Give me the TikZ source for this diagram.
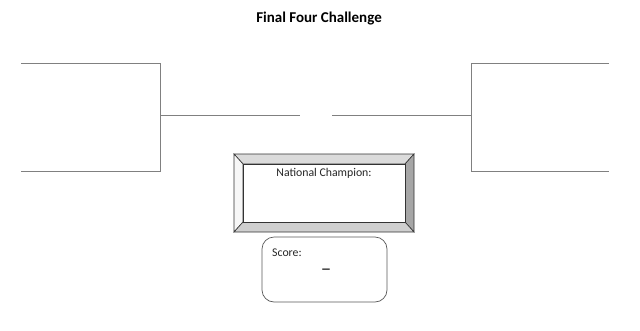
\documentclass[tikz,border=0pt]{standalone}
\usepackage{fontspec}
\setmainfont{Carlito}
\usetikzlibrary{positioning,calc}

\begin{document}
\begin{tikzpicture}[
  x=1pt, y=-1pt,
  bracket/.style={draw=black!50, line width=0.9pt},
  bevel/.style={draw=black!80, line width=0.6pt},
  title/.style={font=\bfseries\fontsize{15}{17}\selectfont, inner sep=0pt},
  lbl/.style={font=\fontsize{11.8}{13}\selectfont, inner sep=0pt, text=black!85},
  scorebox/.style={draw=black!65, rounded corners=12pt, line width=0.7pt}
]
  \useasboundingbox (0,0) rectangle (640,330);
  \node[title] (title) at (319,19) {Final Four Challenge};

  % Left bracket
  \coordinate (lt1) at (21,63);  \coordinate (lt2) at (160,63);
  \coordinate (lb1) at (21,171); \coordinate (lb2) at (160,171);
  \coordinate (lm1) at (160,115); \coordinate (lm2) at (300,115);
  \draw[bracket] (lt1) -- (lt2) -- (lb2) -- (lb1);
  \draw[bracket] (lm1) -- (lm2);

  % Right bracket
  \coordinate (rt1) at (609,63);  \coordinate (rt2) at (471,63);
  \coordinate (rb1) at (609,171); \coordinate (rb2) at (471,171);
  \coordinate (rm1) at (471,115); \coordinate (rm2) at (332,115);
  \draw[bracket] (rt1) -- (rt2) -- (rb2) -- (rb1);
  \draw[bracket] (rm1) -- (rm2);

  % Bevelled champion box
  \coordinate (o1) at (234,154); \coordinate (o2) at (414,154);
  \coordinate (o3) at (414,232); \coordinate (o4) at (234,232);
  \coordinate (i1) at (243,164); \coordinate (i2) at (405,164);
  \coordinate (i3) at (405,222); \coordinate (i4) at (243,222);
  \filldraw[bevel, fill=gray!28] (o1) -- (o2) -- (i2) -- (i1) -- cycle;
  \filldraw[bevel, fill=gray!6]  (o1) -- (i1) -- (i4) -- (o4) -- cycle;
  \filldraw[bevel, fill=gray!70] (o2) -- (o3) -- (i3) -- (i2) -- cycle;
  \filldraw[bevel, fill=gray!38] (o4) -- (i4) -- (i3) -- (o3) -- cycle;
  \draw[bevel, fill=white] (i1) rectangle (i3);
  \node[lbl] (champ) at (324,173) {National Champion:};

  % Score box
  \draw[scorebox] (262,237) rectangle (387,302);
  \node[lbl, anchor=west] (score) at (272,253) {Score:};
  \node[lbl, font=\fontsize{21}{23}\selectfont] (dash) at (326,272) {–};
\end{tikzpicture}
\end{document}
